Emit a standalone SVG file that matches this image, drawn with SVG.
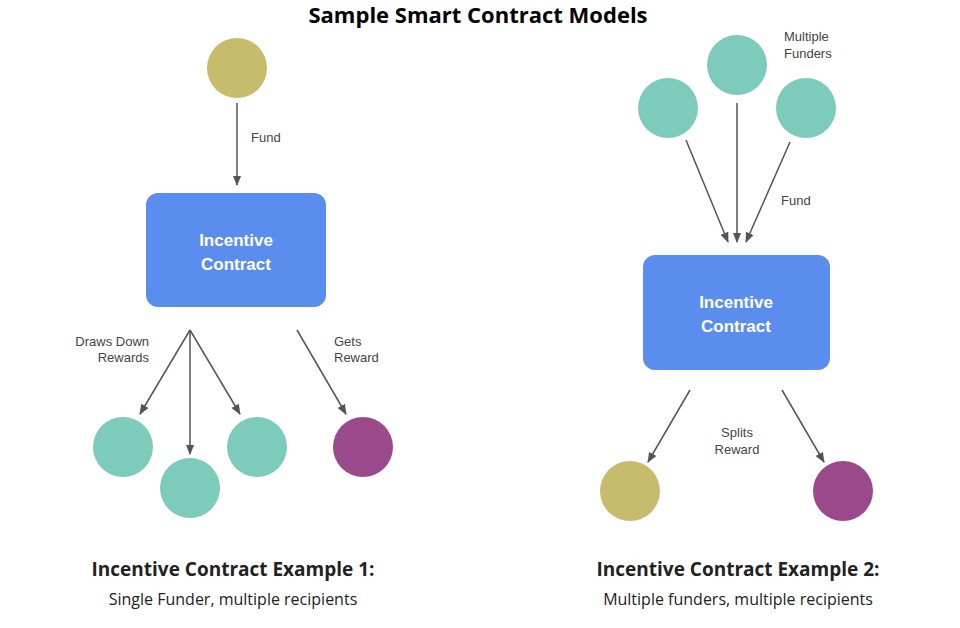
<svg xmlns="http://www.w3.org/2000/svg" width="960" height="628" viewBox="0 0 960 628">
<style>
.t{fill:#7dcbbb}.o{fill:#c7bc6c}.p{fill:#9a4a8b}.box{fill:#5b8def}
.lb{font-family:"Liberation Sans",Arial,sans-serif;font-size:13px;fill:#444}
.bt{font-family:"Liberation Sans",Arial,sans-serif;font-size:17px;font-weight:bold;fill:#fff;text-anchor:middle}
.cap{font-family:"Open Sans","Noto Sans",sans-serif;text-anchor:middle;fill:#222}
line{stroke:#555;stroke-width:1.5;marker-end:url(#a)}
</style>
<defs><marker id="a" viewBox="0 0 10 10" refX="9" refY="5" markerWidth="7" markerHeight="7" orient="auto"><path d="M0,1L10,5L0,9z" fill="#555"/></marker></defs>
<rect width="960" height="628" fill="#fff"/>
<text x="478" y="23" font-family="Open Sans,Noto Sans,sans-serif" font-size="22" font-weight="bold" text-anchor="middle" fill="#000">Sample Smart Contract Models</text>
<g id="connectors">
<line x1="237" y1="103" x2="237" y2="185"/>
<line x1="190" y1="330" x2="140" y2="414"/>
<line x1="190" y1="330" x2="190" y2="454"/>
<line x1="190" y1="330" x2="240" y2="414"/>
<line x1="297" y1="330" x2="346" y2="414"/>
<line x1="686" y1="140" x2="728" y2="242"/>
<line x1="737" y1="103" x2="737" y2="242"/>
<line x1="790" y1="142" x2="746" y2="242"/>
<line x1="690" y1="390" x2="648" y2="462"/>
<line x1="782" y1="390" x2="824" y2="462"/>
</g>
<g id="funder1"><circle cx="237" cy="68" r="30" class="o"/></g>
<g id="contract1"><rect x="146" y="193" width="180" height="114" rx="12" class="box"/><text class="bt" x="236" y="246">Incentive</text><text class="bt" x="236" y="270">Contract</text></g>
<g id="r1"><circle cx="123" cy="447" r="30" class="t"/></g>
<g id="r2"><circle cx="190" cy="488" r="30" class="t"/></g>
<g id="r3"><circle cx="257" cy="447" r="30" class="t"/></g>
<g id="r4"><circle cx="363" cy="447" r="30" class="p"/></g>
<g id="f1"><circle cx="668" cy="108" r="30" class="t"/></g>
<g id="f2"><circle cx="737" cy="65" r="30" class="t"/></g>
<g id="f3"><circle cx="806" cy="108" r="30" class="t"/></g>
<g id="contract2"><rect x="643" y="255" width="187" height="115" rx="12" class="box"/><text class="bt" x="736" y="308">Incentive</text><text class="bt" x="736" y="332">Contract</text></g>
<g id="s1"><circle cx="630" cy="491" r="30" class="o"/></g>
<g id="s2"><circle cx="843" cy="491" r="30" class="p"/></g>
<g id="labels">
<text class="lb" x="251" y="142">Fund</text>
<text class="lb" x="149" y="346" text-anchor="end">Draws Down</text>
<text class="lb" x="149" y="362" text-anchor="end">Rewards</text>
<text class="lb" x="334" y="346">Gets</text>
<text class="lb" x="334" y="362">Reward</text>
<text class="lb" x="784" y="41">Multiple</text>
<text class="lb" x="784" y="58">Funders</text>
<text class="lb" x="781" y="205">Fund</text>
<text class="lb" x="737" y="437" text-anchor="middle">Splits</text>
<text class="lb" x="737" y="454" text-anchor="middle">Reward</text>
</g>
<text class="cap" x="233" y="576" font-size="19" font-weight="bold">Incentive Contract Example 1:</text>
<text class="cap" x="233" y="605" font-size="16">Single Funder, multiple recipients</text>
<text class="cap" x="738" y="576" font-size="19" font-weight="bold">Incentive Contract Example 2:</text>
<text class="cap" x="738" y="605" font-size="16">Multiple funders, multiple recipients</text>
</svg>
